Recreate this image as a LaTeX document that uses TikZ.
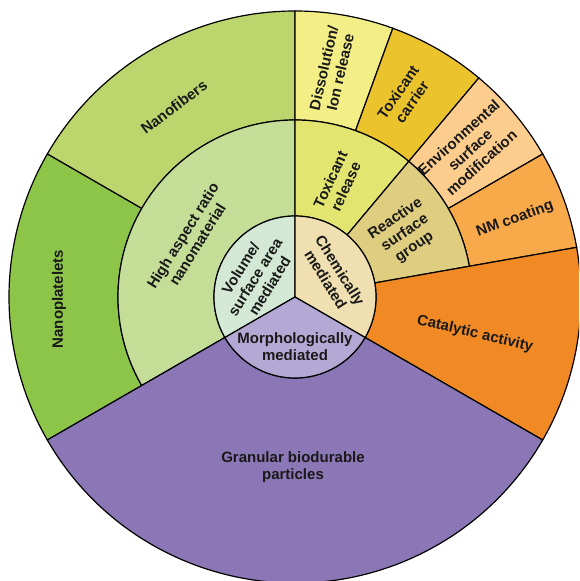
\documentclass[tikz,border=0pt]{standalone}
\usepackage{fontspec}
\setmainfont{Liberation Sans}
\definecolor{fibers}{HTML}{BCD56D}
\definecolor{platelets}{HTML}{8DC548}
\definecolor{aspect}{HTML}{C4DD97}
\definecolor{volume}{HTML}{D3E9D6}
\definecolor{dissol}{HTML}{F3EF86}
\definecolor{carrier}{HTML}{EAC32D}
\definecolor{toxrel}{HTML}{E2E56F}
\definecolor{envmod}{HTML}{FDCD8E}
\definecolor{coating}{HTML}{F8A94A}
\definecolor{reactive}{HTML}{DFCE7F}
\definecolor{chemical}{HTML}{EFDFB1}
\definecolor{catalytic}{HTML}{F18A24}
\definecolor{morph}{HTML}{B4A9D4}
\definecolor{granular}{HTML}{8B77B5}
\begin{document}
\begin{tikzpicture}[x=1pt,y=1pt,line width=1.2pt,
    lbl/.style={font=\bfseries\fontsize{15}{17}\selectfont,align=center,text=black!90}]
  \useasboundingbox (-295,-284) rectangle (284,297);
  \clip (-295,-284) rectangle (284,297);
  % outer ring
  \filldraw[fill=fibers] (90:177) -- (90:286) arc[start angle=90,end angle=150,radius=286] -- (150:177) arc[start angle=150,end angle=90,radius=177] -- cycle;
  \filldraw[fill=platelets] (150:177) -- (150:286) arc[start angle=150,end angle=210,radius=286] -- (210:177) arc[start angle=210,end angle=150,radius=177] -- cycle;
  \filldraw[fill=dissol] (70:177) -- (70:286) arc[start angle=70,end angle=90,radius=286] -- (90:177) arc[start angle=90,end angle=70,radius=177] -- cycle;
  \filldraw[fill=carrier] (50:177) -- (50:286) arc[start angle=50,end angle=70,radius=286] -- (70:177) arc[start angle=70,end angle=50,radius=177] -- cycle;
  \filldraw[fill=envmod] (30:177) -- (30:286) arc[start angle=30,end angle=50,radius=286] -- (50:177) arc[start angle=50,end angle=30,radius=177] -- cycle;
  \filldraw[fill=coating] (10:177) -- (10:286) arc[start angle=10,end angle=30,radius=286] -- (30:177) arc[start angle=30,end angle=10,radius=177] -- cycle;
  % middle ring
  \filldraw[fill=aspect] (90:81) -- (90:177) arc[start angle=90,end angle=210,radius=177] -- (210:81) arc[start angle=210,end angle=90,radius=81] -- cycle;
  \filldraw[fill=toxrel] (50:81) -- (50:177) arc[start angle=50,end angle=90,radius=177] -- (90:81) arc[start angle=90,end angle=50,radius=81] -- cycle;
  \filldraw[fill=reactive] (10:81) -- (10:177) arc[start angle=10,end angle=50,radius=177] -- (50:81) arc[start angle=50,end angle=10,radius=81] -- cycle;
  \filldraw[fill=catalytic] (-30:81) -- (-30:286) arc[start angle=-30,end angle=10,radius=286] -- (10:81) arc[start angle=10,end angle=-30,radius=81] -- cycle;
  \filldraw[fill=granular] (210:81) -- (210:286) arc[start angle=210,end angle=330,radius=286] -- (330:81) arc[start angle=330,end angle=210,radius=81] -- cycle;
  % centre
  \filldraw[fill=volume] (0,0) -- (90:81) arc[start angle=90,end angle=210,radius=81] -- cycle;
  \filldraw[fill=chemical] (0,0) -- (-30:81) arc[start angle=-30,end angle=90,radius=81] -- cycle;
  \filldraw[fill=morph] (0,0) -- (210:81) arc[start angle=210,end angle=330,radius=81] -- cycle;
  % labels
  \node[lbl,rotate=58] (volume) at (-40,20) {Volume/\\surface area\\mediated};
  \node[lbl,rotate=-58] (chemical) at (38,22) {Chemically\\mediated};
  \node[lbl] (morph) at (0,-50) {Morphologically\\mediated};
  \node[lbl,rotate=58] (aspect) at (-105,57) {High aspect ratio\\nanomaterial};
  \node[lbl,rotate=65] (toxrel) at (43,114) {Toxicant\\release};
  \node[lbl,rotate=34] (reactive) at (110,64) {Reactive\\surface\\group};
  \node[lbl,rotate=-13] (catalytic) at (180,-37) {Catalytic activity};
  \node[lbl] (granular) at (-2,-170) {Granular biodurable\\particles};
  \node[lbl,rotate=37] (fibers) at (-121,190) {Nanofibers};
  \node[lbl,rotate=90] (platelets) at (-236,-2) {Nanoplatelets};
  \node[lbl,rotate=77] (dissol) at (37,227) {Dissolution/\\Ion release};
  \node[lbl,rotate=55] (carrier) at (110,200) {Toxicant\\carrier};
  \node[lbl,rotate=42] (envmod) at (175,147) {Environmental\\surface\\modification};
  \node[lbl,rotate=20] (coating) at (220,78) {NM coating};
\end{tikzpicture}
\end{document}
